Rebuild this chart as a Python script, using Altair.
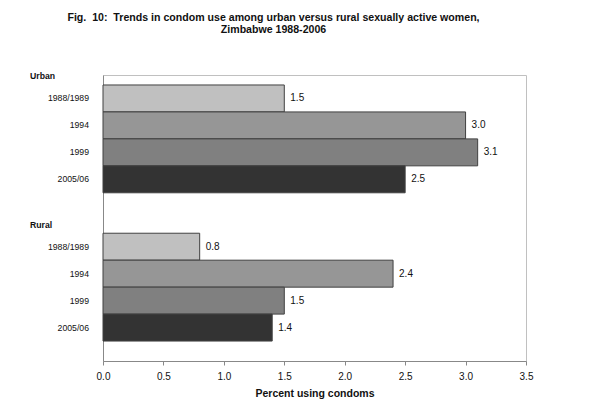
import altair as alt
import pandas as pd

groups = ["Urban", "Rural"]
periods = ["1988/1989", "1994", "1999", "2005/06"]
urban = [1.5, 3.0, 3.1, 2.5]
rural = [0.8, 2.4, 1.5, 1.4]
colors = ["#c0c0c0", "#969696", "#808080", "#333333"]
x_ticks = [0.0, 0.5, 1.0, 1.5, 2.0, 2.5, 3.0, 3.5]

FONT = "Liberation Sans"
NB = "\u00a0"
group_start = {"Urban": 0.0, "Rural": 5.5}

rows = []
for g, vals in zip(groups, [urban, rural]):
    s = group_start[g]
    for i, (p, v) in enumerate(zip(periods, vals)):
        rows.append(dict(group=g, period=p, value=v, r0=s + i, r1=s + i + 1,
                         rm=s + i + 0.5, label=f"{v:.1f}"))
df = pd.DataFrame(rows)
hdr = pd.DataFrame({"group": groups, "rm": [group_start[g] - 0.32 for g in groups]})

yscale = alt.Scale(domain=[-0.37, 10.24], reverse=True, nice=False, zero=False)
xscale = alt.Scale(domain=[0, 3.5], nice=False, zero=False)

base = alt.Chart(df)

bars = base.mark_rect(stroke="#404040", strokeWidth=1).encode(
    x=alt.X("value:Q", scale=xscale,
            axis=alt.Axis(values=x_ticks, format=".1f", title="Percent using condoms",
                          grid=False, tickSize=4, labelPadding=6, titlePadding=7,
                          labelFlush=False, labelOverlap=False)),
    x2=alt.datum(0),
    y=alt.Y("r0:Q", scale=yscale,
            axis=alt.Axis(labels=False, ticks=False, grid=False, title=None)),
    y2="r1:Q",
    color=alt.Color("period:N", scale=alt.Scale(domain=periods, range=colors), legend=None),
)

values = base.mark_text(align="left", baseline="middle", dx=6, fontSize=10,
                        font=FONT, color="#111").encode(
    x=alt.X("value:Q", scale=xscale),
    y=alt.Y("rm:Q", scale=yscale),
    text="label:N",
)

cats = base.mark_text(align="right", baseline="middle", fontSize=8.7,
                      font=FONT, color="#111").encode(
    x=alt.value(-14),
    y=alt.Y("rm:Q", scale=yscale),
    text="period:N",
)

heads = alt.Chart(hdr).mark_text(align="left", baseline="middle", fontSize=8.7,
                                 fontWeight="bold", font=FONT, color="#111").encode(
    x=alt.value(-73),
    y=alt.Y("rm:Q", scale=yscale),
    text="group:N",
)

chart = alt.layer(bars, values, cats, heads).properties(
    width=423,
    height=286,
    title=alt.TitleParams(
        text=[f"Fig.{NB}{NB}10:{NB}{NB}Trends in condom use among urban versus rural sexually active women,",
              "Zimbabwe 1988-2006"],
        anchor="middle", dx=-41, offset=37, fontSize=10.6, fontWeight="bold",
        font=FONT, color="#111", lineHeight=12),
    autosize=alt.AutoSizeParams(type="none"),
    padding={"left": 95, "top": 67, "right": 66, "bottom": 40},
).configure_view(
    stroke="#c0c0c0", strokeWidth=1
).configure_axis(
    domainColor="#888", tickColor="#888", labelFont=FONT, labelFontSize=10,
    labelColor="#111", titleFont=FONT, titleFontSize=10.5, titleFontWeight="bold",
    titleColor="#111",
)

chart.save("out.html", embed_options={"renderer": "svg", "actions": False})
